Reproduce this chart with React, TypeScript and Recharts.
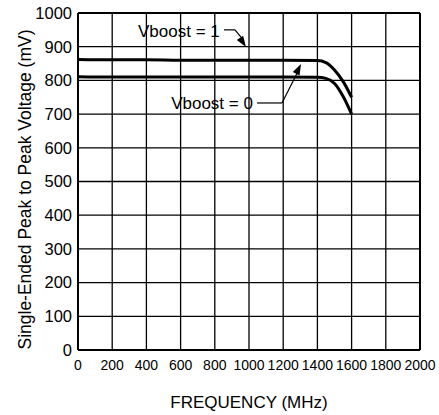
import { LineChart, Line, XAxis, YAxis, CartesianGrid, ReferenceLine, ReferenceDot, Label } from 'recharts'

const freqTicks = [0, 200, 400, 600, 800, 1000, 1200, 1400, 1600, 1800, 2000]
const voltTicks = [0, 100, 200, 300, 400, 500, 600, 700, 800, 900, 1000]

const boost1 = [
  { f: 0, v: 862 }, { f: 200, v: 861 }, { f: 400, v: 861 }, { f: 600, v: 860 },
  { f: 800, v: 860 }, { f: 1000, v: 860 }, { f: 1200, v: 860 }, { f: 1400, v: 859 },
  { f: 1450, v: 853 }, { f: 1500, v: 831 }, { f: 1550, v: 797 }, { f: 1600, v: 750 },
]
const boost0 = [
  { f: 0, v: 811 }, { f: 200, v: 810 }, { f: 400, v: 810 }, { f: 600, v: 810 },
  { f: 800, v: 810 }, { f: 1000, v: 810 }, { f: 1200, v: 810 }, { f: 1400, v: 809 },
  { f: 1450, v: 806 }, { f: 1500, v: 791 }, { f: 1550, v: 753 }, { f: 1600, v: 700 },
]

const font = '"Liberation Sans", Arial, sans-serif'

function Arrow({ cx, cy, angle }: { cx?: number; cy?: number; angle: number }) {
  if (cx == null || cy == null) return null
  const a = (angle * Math.PI) / 180
  const len = 11, w = 3.8
  const bx = cx - Math.cos(a) * len, by = cy - Math.sin(a) * len
  const px = -Math.sin(a) * w, py = Math.cos(a) * w
  return <polygon points={`${cx},${cy} ${bx + px},${by + py} ${bx - px},${by - py}`} fill="#000" />
}

function Note({ cx, cy, text, anchor }: { cx?: number; cy?: number; text: string; anchor: 'start' | 'end' }) {
  if (cx == null || cy == null) return null
  return <text x={cx} y={cy} dy="0.36em" textAnchor={anchor} fontSize={17} fontFamily={font} fill="#000">{text}</text>
}

export default function App() {
  return (
    <div style={{ position: 'absolute', left: 0, top: 0, width: 439, height: 415, background: '#fff' }}>
      <LineChart width={439} height={415} margin={{ top: 13, right: 19, bottom: 0, left: 0 }}>
        <CartesianGrid stroke="#000" strokeWidth={1.3} />
        <XAxis
          type="number" dataKey="f" domain={[0, 2000]} ticks={freqTicks} height={65}
          axisLine={{ stroke: '#000', strokeWidth: 2 }} tickLine={false} tickSize={6} tickMargin={4}
          tick={{ fill: '#000', fontSize: 14, fontFamily: font }} interval={0}
        >
          <Label value="FREQUENCY (MHz)" position="insideBottom" offset={7} fill="#000" fontSize={17} fontFamily={font} />
        </XAxis>
        <YAxis
          type="number" domain={[0, 1000]} ticks={voltTicks} width={78}
          axisLine={{ stroke: '#000', strokeWidth: 2 }} tickLine={false} tickSize={6} tickMargin={0}
          tick={{ fill: '#000', fontSize: 16.5, fontFamily: font }} interval={0}
        >
          <Label
            content={() => (
              <text x={31} y={189.5} transform="rotate(-90 31 189.5)" textAnchor="middle" fontSize={17.5} fontFamily={font} fill="#000">
                Single-Ended Peak to Peak Voltage (mV)
              </text>
            )}
          />
        </YAxis>
        <ReferenceLine x={2000} stroke="#000" strokeWidth={2} />
        <ReferenceLine y={1000} stroke="#000" strokeWidth={2} />
        <Line data={boost1} dataKey="v" type="monotone" stroke="#000" strokeWidth={3} dot={false} isAnimationActive={false} />
        <Line data={boost0} dataKey="v" type="monotone" stroke="#000" strokeWidth={3} dot={false} isAnimationActive={false} />

        <ReferenceLine segment={[{ x: 854, y: 950 }, { x: 918, y: 950 }]} stroke="#000" strokeWidth={1.2} ifOverflow="visible" />
        <ReferenceLine segment={[{ x: 918, y: 950 }, { x: 970, y: 918 }]} stroke="#000" strokeWidth={1.2} ifOverflow="visible" />
        <ReferenceDot x={982} y={899} r={0} ifOverflow="visible" shape={(p: any) => <Arrow cx={p.cx} cy={p.cy} angle={57} />} />
        <ReferenceDot x={351} y={947} r={0} ifOverflow="visible" shape={(p: any) => <Note cx={p.cx} cy={p.cy} text="Vboost = 1" anchor="start" />} />

        <ReferenceLine segment={[{ x: 1047, y: 733 }, { x: 1193, y: 733 }]} stroke="#000" strokeWidth={1.2} ifOverflow="visible" />
        <ReferenceLine segment={[{ x: 1193, y: 733 }, { x: 1290, y: 830 }]} stroke="#000" strokeWidth={1.2} ifOverflow="visible" />
        <ReferenceDot x={1304} y={849} r={0} ifOverflow="visible" shape={(p: any) => <Arrow cx={p.cx} cy={p.cy} angle={-64} />} />
        <ReferenceDot x={1023} y={733} r={0} ifOverflow="visible" shape={(p: any) => <Note cx={p.cx} cy={p.cy} text="Vboost = 0" anchor="end" />} />
      </LineChart>
    </div>
  )
}
